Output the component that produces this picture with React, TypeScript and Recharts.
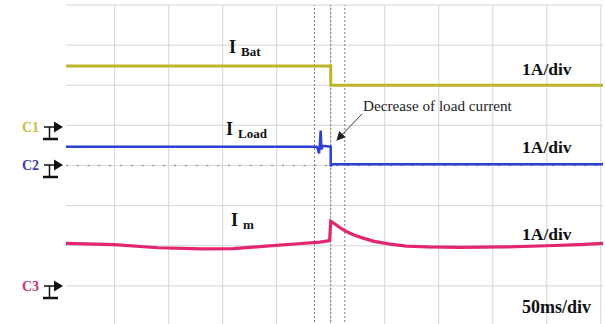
import React from 'react';
import { LineChart, Line, XAxis, YAxis, ReferenceLine } from 'recharts';

// time axis in ms (0 = trigger / centre of screen), 50 ms per division
const gridTimes = [-200, -150, -100, -50, 0, 50, 100, 150, 200, 250];
const gridDivs = [1, 2, 3, 5, 6, 7, 8];
const cursorTimes = [-15, 0, 13];

// channel 1: battery current (A)
const batTime = [-245, 0, 0, 252];
const batAmps = [1.48, 1.48, 1.0, 1.0];

// channel 2: load current (A)
const loadTime = [-245, -13, -12, -10.8, -10, -9.3, -8.6, -7.5, 0, 0, 1, 252];
const loadAmps = [0.47, 0.47, 0.42, 0.3, 0.55, 0.87, 0.4, 0.49, 0.47, -0.02, 0.03, 0.03];

// channel 3: motor current (A)
const mTime = [-245, -200, -160, -120, -90, -60, -30, -10, -1, 0, 3, 8, 14, 22, 30, 40, 55, 70, 90, 120, 160, 200, 230, 252];
const mAmps = [1.06, 1.03, 0.95, 0.92, 0.93, 0.99, 1.05, 1.09, 1.13, 1.61, 1.56, 1.46, 1.36, 1.26, 1.19, 1.11, 1.04, 0.99, 0.97, 0.96, 0.97, 1.0, 1.03, 1.06];

// ground marker of each channel, in divisions from the bottom
const C1 = 5;
const C2 = 4;
const C3 = 1;

const toRows = (times: number[], amps: number[], ground: number) =>
  times.map((t, i) => ({ t, v: ground + amps[i] }));

const batData = toRows(batTime, batAmps, C1);
const loadData = toRows(loadTime, loadAmps, C2);
const mData = toRows(mTime, mAmps, C3);

const serif = '"Liberation Serif", "Times New Roman", serif';

const GroundMark = ({ y, name, color }: { y: number; name: string; color: string }) => (
  <g>
    <text x={22} y={y + 5} fontFamily={serif} fontWeight="bold" fontSize={14} fill={color}>{name}</text>
    <line x1={44} y1={y} x2={55} y2={y} stroke="#111" strokeWidth={1.5} />
    <polygon points={`${54},${y - 5.5} ${63},${y} ${54},${y + 5.5}`} fill="#111" />
    <line x1={49.5} y1={y} x2={49.5} y2={y + 11} stroke="#111" strokeWidth={1.5} />
    <line x1={43} y1={y + 12} x2={58} y2={y + 12} stroke="#111" strokeWidth={2.5} />
  </g>
);

const TraceLabel = ({ x, y, sub }: { x: number; y: number; sub: string }) => (
  <text x={x} y={y} fontFamily={serif} fontWeight="bold" fill="#111">
    <tspan fontSize={18}>I</tspan>
    <tspan fontSize={13} dx={5} dy={3}>{sub}</tspan>
  </text>
);

const App: React.FC = () => {
  return (
    <div style={{ position: 'absolute', left: 0, top: 0, width: 605, height: 324, overflow: 'hidden', background: '#fff' }}>
      <LineChart width={605} height={330} margin={{ top: 5, right: 2, left: 66, bottom: 4 }}>
        <XAxis type="number" dataKey="t" domain={[-245, 252]} allowDataOverflow hide />
        <YAxis type="number" domain={[0, 8]} allowDataOverflow hide />
        {gridTimes.map(t => (
          <ReferenceLine key={'gx' + t} x={t} stroke="#d6d6d6" strokeWidth={1} />
        ))}
        {gridDivs.map(d => (
          <ReferenceLine key={'gy' + d} y={d} stroke="#d6d6d6" strokeWidth={1} />
        ))}
        <ReferenceLine y={4} stroke="#dcdcdc" strokeWidth={1} />
        <ReferenceLine y={4} stroke="#9a9a9a" strokeWidth={1.5} strokeDasharray="2 8.8" />
        {cursorTimes.map(t => (
          <ReferenceLine key={'c' + t} x={t} stroke="#808080" strokeWidth={1} strokeDasharray="2 2" />
        ))}
        <Line data={batData} dataKey="v" type="linear" stroke="#bdb52a" strokeWidth={3} dot={false} isAnimationActive={false} />
        <Line data={loadData} dataKey="v" type="linear" stroke="#2d40d4" strokeWidth={2.5} dot={false} isAnimationActive={false} />
        <Line data={mData} dataKey="v" type="linear" stroke="#e2266f" strokeWidth={3.2} dot={false} isAnimationActive={false} />
      </LineChart>
      <svg width={605} height={324} style={{ position: 'absolute', left: 0, top: 0, pointerEvents: 'none' }}>
        <defs>
          <marker id="head" markerWidth="9" markerHeight="9" refX="8" refY="4.5" orient="auto" markerUnits="userSpaceOnUse">
            <path d="M0,0 L9,4.5 L0,9 Z" fill="#222" />
          </marker>
        </defs>
        <TraceLabel x={229} y={53} sub="Bat" />
        <TraceLabel x={226} y={135} sub="Load" />
        <TraceLabel x={231} y={226} sub="m" />
        <text x={522} y={75} fontFamily={serif} fontWeight="bold" fontSize={17.5} fill="#111">1A/div</text>
        <text x={522} y={153} fontFamily={serif} fontWeight="bold" fontSize={17.5} fill="#111">1A/div</text>
        <text x={522} y={240} fontFamily={serif} fontWeight="bold" fontSize={17.5} fill="#111">1A/div</text>
        <text x={522} y={313} fontFamily={serif} fontWeight="bold" fontSize={18} fill="#111">50ms/div</text>
        <text x={363} y={111} fontFamily={serif} fontSize={15.2} fill="#222">Decrease of load current</text>
        <line x1={362} y1={114} x2={337} y2={140} stroke="#333" strokeWidth={1} markerEnd="url(#head)" />
        <GroundMark y={127} name="C1" color="#c8c03a" />
        <GroundMark y={165} name="C2" color="#3b3fb0" />
        <GroundMark y={286} name="C3" color="#cc3274" />
      </svg>
    </div>
  );
};

export default App;
